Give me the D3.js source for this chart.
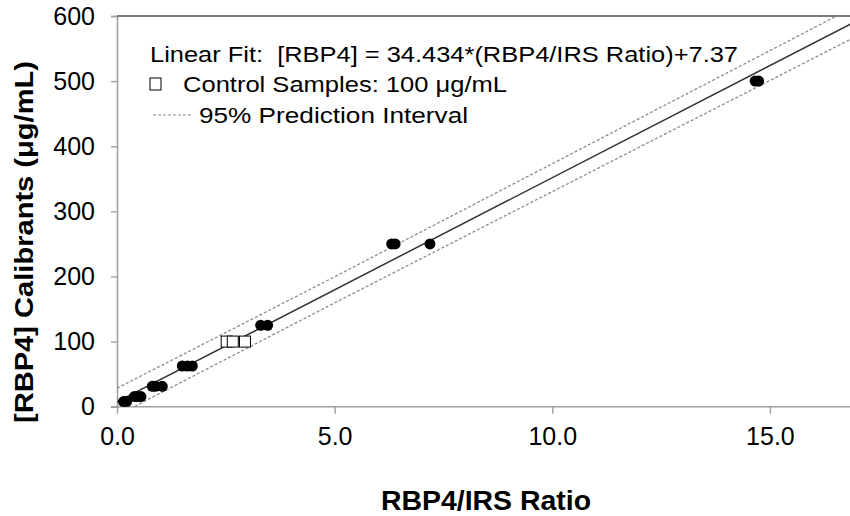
<!DOCTYPE html>
<html>
<head>
<meta charset="utf-8">
<script src="https://cdn.jsdelivr.net/npm/d3@7"></script>
<style>
  body { margin: 0; background: #fff; }
  svg { display: block; font-family: "Liberation Sans", Arial, sans-serif; }
</style>
</head>
<body>
<svg id="chart" width="850" height="516"></svg>
<script>
// calibrant points (RBP4/IRS ratio, nominal concentration)
var calibRatio = [0.15, 0.22, 0.40, 0.47, 0.55, 0.81, 0.88, 1.04, 1.50, 1.62, 1.73, 3.30, 3.46, 6.31, 6.39, 7.19, 14.66, 14.74];
var calibConc  = [7.8, 7.8, 15.6, 15.6, 15.6, 31.25, 31.25, 31.25, 62.5, 62.5, 62.5, 125, 125, 250, 250, 250, 500, 500];

// control samples at 100 ug/mL
var controlRatio = [2.52, 2.66, 2.94];
var controlConc  = [100, 100, 100];

// linear fit from the legend
var fitSlope = 34.434;
var fitIntercept = 7.37;

// 95% prediction interval
var piRatio = [0, 5, 17];
var piUpper = [28.4, 199.5, 616.3];
var piLower = [-13.6, 159.5, 569.3];

var xTicks = [0, 5, 10, 15];
var yTicks = [0, 100, 200, 300, 400, 500, 600];

var svg = d3.select('#chart');
var margin = { left: 117, top: 16 };
var plotBottom = 406.7;

var xScale = d3.scaleLinear().domain([0, 17]).range([margin.left, 857]);
var yScale = d3.scaleLinear().domain([0, 600]).range([plotBottom, margin.top]);

svg.append('clipPath').attr('id', 'plotClip')
  .append('rect')
  .attr('x', xScale(0)).attr('y', yScale(600))
  .attr('width', xScale(17) - xScale(0))
  .attr('height', yScale(0) - yScale(600));

// axes
var xAxis = d3.axisBottom(xScale).tickValues(xTicks).tickFormat(d3.format('.1f')).tickSizeOuter(0).tickSize(7).tickPadding(14);
var gx = svg.append('g').attr('transform', 'translate(0,' + plotBottom + ')').call(xAxis);
var yAxis = d3.axisLeft(yScale).tickValues(yTicks).tickSizeOuter(0).tickSize(6).tickPadding(16);
var gy = svg.append('g').attr('transform', 'translate(' + margin.left + ',0)').call(yAxis);

[gx, gy].forEach(function(g) {
  g.select('.domain').attr('stroke', '#a0a0a0').attr('stroke-width', 1.6);
  g.selectAll('.tick line').attr('stroke', '#a0a0a0').attr('stroke-width', 1.4);
  g.selectAll('.tick text').attr('fill', '#000').style('font-size', '25px')
    .style('font-family', '"Liberation Sans", Arial, sans-serif');
});
gx.select('.domain').attr('d', 'M' + (margin.left - 6) + ',0H850');

// top frame line
svg.append('line')
  .attr('x1', xScale(0)).attr('x2', 850)
  .attr('y1', yScale(600)).attr('y2', yScale(600))
  .attr('stroke', '#7a7a7a').attr('stroke-width', 1.8);

var plot = svg.append('g').attr('clip-path', 'url(#plotClip)');

var line = d3.line().x(function(d) { return xScale(d[0]); }).y(function(d) { return yScale(d[1]); });

// prediction interval
[piUpper, piLower].forEach(function(bound) {
  plot.append('path')
    .attr('d', line(d3.zip(piRatio, bound)))
    .attr('fill', 'none')
    .attr('stroke', '#8c8c8c')
    .attr('stroke-width', 1.3)
    .attr('stroke-dasharray', '3,2');
});

// fit line
var fitX = [0, 17];
plot.append('path')
  .attr('d', line(fitX.map(function(x) { return [x, fitSlope * x + fitIntercept]; })))
  .attr('fill', 'none')
  .attr('stroke', '#333')
  .attr('stroke-width', 1.5);

// calibrants
plot.selectAll('circle.calib')
  .data(d3.zip(calibRatio, calibConc))
  .enter().append('circle')
  .attr('class', 'calib')
  .attr('cx', function(d) { return xScale(d[0]); })
  .attr('cy', function(d) { return yScale(d[1]); })
  .attr('r', 5.5)
  .attr('fill', '#000');

// controls
var sq = 11;
plot.selectAll('rect.control')
  .data(d3.zip(controlRatio, controlConc))
  .enter().append('rect')
  .attr('class', 'control')
  .attr('x', function(d) { return xScale(d[0]) - sq / 2; })
  .attr('y', function(d) { return yScale(d[1]) - sq / 2; })
  .attr('width', sq).attr('height', sq)
  .attr('fill', '#fff')
  .attr('stroke', '#000')
  .attr('stroke-width', 1);

// legend (the original text is a little stretched sideways)
var legend = svg.append('g').style('font-size', '22px').attr('fill', '#000');
legend.append('text').attr('x', 150).attr('y', 62)
  .attr('xml:space', 'preserve')
  .attr('textLength', 588).attr('lengthAdjust', 'spacingAndGlyphs')
  .text('Linear Fit:  [RBP4] = 34.434*(RBP4/IRS Ratio)+7.37');
legend.append('rect').attr('x', 150).attr('y', 78).attr('width', 11).attr('height', 12)
  .attr('fill', '#fff').attr('stroke', '#000').attr('stroke-width', 1);
legend.append('text').attr('x', 183).attr('y', 92)
  .attr('textLength', 324).attr('lengthAdjust', 'spacingAndGlyphs')
  .text('Control Samples: 100 μg/mL');
legend.append('line').attr('x1', 153).attr('x2', 193).attr('y1', 115).attr('y2', 115)
  .attr('stroke', '#8c8c8c').attr('stroke-width', 1.2).attr('stroke-dasharray', '3,2');
legend.append('text').attr('x', 199).attr('y', 123)
  .attr('textLength', 269).attr('lengthAdjust', 'spacingAndGlyphs')
  .text('95% Prediction Interval');

// axis titles
svg.append('text')
  .attr('x', 486).attr('y', 510)
  .attr('text-anchor', 'middle')
  .attr('textLength', 210).attr('lengthAdjust', 'spacingAndGlyphs')
  .style('font-size', '27px').style('font-weight', 'bold')
  .text('RBP4/IRS Ratio');
svg.append('text')
  .attr('transform', 'translate(33,' + 242 + ') rotate(-90)')
  .attr('text-anchor', 'middle')
  .attr('textLength', 362).attr('lengthAdjust', 'spacingAndGlyphs')
  .style('font-size', '25px').style('font-weight', 'bold')
  .text('[RBP4] Calibrants (μg/mL)');
</script>
</body>
</html>
